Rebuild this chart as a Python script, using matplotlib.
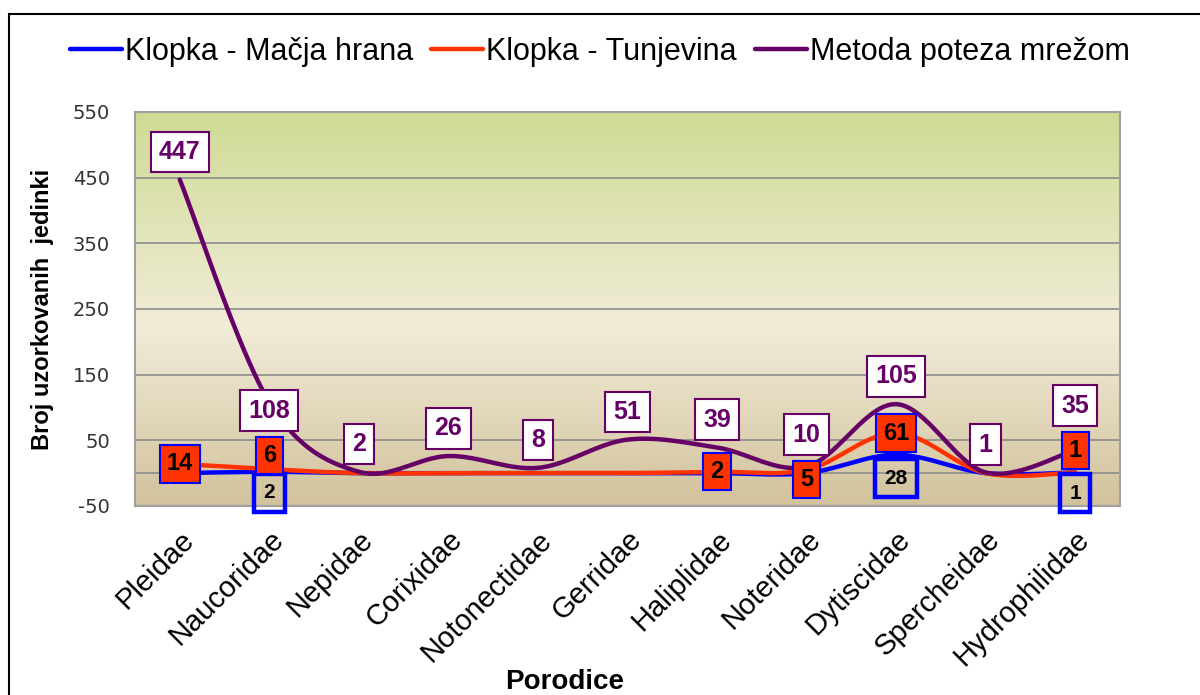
import numpy as np
import matplotlib.pyplot as plt
from matplotlib.patches import Rectangle
from matplotlib.colors import LinearSegmentedColormap

plt.rcParams['font.family'] = ['Liberation Sans', 'DejaVu Sans']
plt.rcParams['axes.unicode_minus'] = False

# --- podaci ---
porodice = ['Pleidae', 'Naucoridae', 'Nepidae', 'Corixidae', 'Notonectidae',
            'Gerridae', 'Haliplidae', 'Noteridae', 'Dytiscidae', 'Spercheidae',
            'Hydrophilidae']
macja_hrana = [0, 2, 0, 0, 0, 0, 0, 0, 28, 0, 1]
tunjevina = [14, 6, 0, 0, 0, 0, 2, 5, 61, 0, 1]
mreza = [447, 108, 2, 26, 8, 51, 39, 10, 105, 1, 35]

C_BLUE = '#0000FF'
C_RED = '#FF3300'
C_PURPLE = '#660066'


def smooth(y, n=40):
    # Bezier spline kroz tocke (kao "smoothed line" u Excelu)
    pts = np.column_stack([np.arange(len(y), dtype=float), np.asarray(y, dtype=float)])
    t = np.linspace(0, 1, n)[:, None]
    out = []
    for i in range(len(pts) - 1):
        p0 = pts[max(i - 1, 0)]
        p1 = pts[i]
        p2 = pts[i + 1]
        p3 = pts[min(i + 2, len(pts) - 1)]
        c1 = p1 + (p2 - p0) / 6
        c2 = p2 - (p3 - p1) / 6
        seg = (1 - t)**3 * p1 + 3 * (1 - t)**2 * t * c1 + 3 * (1 - t) * t**2 * c2 + t**3 * p2
        out.append(seg if i == 0 else seg[1:])
    s = np.vstack(out)
    return s[:, 0], s[:, 1]


fig = plt.figure(figsize=(12, 6.95), dpi=100)
ax = fig.add_axes([0.1125, 0.272, 0.8208, 0.567])

# pozadina s prijelazom boja
cmap = LinearSegmentedColormap.from_list(
    'bg', [(0, '#D2C29C'), (0.45, '#F1ECD8'), (1, '#CFDB94')])
ax.imshow(np.linspace(0, 1, 256)[:, None], cmap=cmap, aspect='auto',
          extent=[-0.5, 10.5, -50, 550], origin='lower', zorder=0)

ax.set_xlim(-0.5, 10.5)
ax.set_ylim(-50, 550)
ax.set_yticks(np.arange(-50, 551, 100))
ax.yaxis.grid(True, color='#8C8C8C', lw=1.2, zorder=1)
ax.axhline(0, color='#8C8C8C', lw=1.2, zorder=1)
ax.set_axisbelow(True)
for s in ax.spines.values():
    s.set_color('#A0A0A0')
    s.set_linewidth(1.5)

ax.tick_params(axis='y', length=0, pad=18, labelsize=14, labelcolor='#333333')
ax.tick_params(axis='x', length=0, pad=14)
for lbl in ax.get_yticklabels():
    lbl.set_fontfamily('DejaVu Sans')
ax.set_xticks(range(len(porodice)))
ax.set_xticklabels(porodice, rotation=45, ha='right', va='top',
                   rotation_mode='anchor', fontsize=21)

# linije
for vals, col, name in [(macja_hrana, C_BLUE, 'Klopka - Mačja hrana'),
                        (tunjevina, C_RED, 'Klopka - Tunjevina'),
                        (mreza, C_PURPLE, 'Metoda poteza mrežom')]:
    xs, ys = smooth(vals)
    ax.plot(xs, ys, color=col, lw=3.2, label=name, zorder=3, solid_capstyle='round')

# oznake vrijednosti (pomaci u tockama, rucno razmaknute gdje se preklapaju)
pomak_mreza = {1: -6, 7: 23, 10: 32}
pomak_tunj = {1: 10, 7: -7, 10: 16}
pomak_macja = {8: -17}

for i, v in enumerate(mreza):
    ax.annotate(str(v), (i, v), xytext=(0, pomak_mreza.get(i, 20)),
                textcoords='offset points', ha='center', va='center',
                fontsize=18, fontweight='bold', color=C_PURPLE, zorder=6,
                bbox=dict(boxstyle='square,pad=0.33', fc='white', ec=C_PURPLE, lw=1.5))
for i, v in enumerate(macja_hrana):
    if v:
        ax.annotate(str(v), (i, v), xytext=(0, pomak_macja.get(i, -15)),
                    textcoords='offset points', ha='center', va='center',
                    fontsize=15, fontweight='bold', color='black', zorder=5,
                    bbox=dict(boxstyle='square,pad=0.45', fc='none', ec=C_BLUE, lw=3.2))
for i, v in enumerate(tunjevina):
    if v:
        ax.annotate(str(v), (i, v), xytext=(0, pomak_tunj.get(i, 0)),
                    textcoords='offset points', ha='center', va='center',
                    fontsize=17, fontweight='bold', color='black', zorder=7,
                    bbox=dict(boxstyle='square,pad=0.3', fc=C_RED, ec=C_BLUE, lw=1.5))

fig.legend(loc='center', bbox_to_anchor=(0.5, 1 - 52 / 695), ncol=3, frameon=False,
           fontsize=22, handlelength=1.7, handletextpad=0.1, columnspacing=0.6)

fig.text(42 / 1200, 0.555, 'Broj uzorkovanih  jedinki', rotation=90, ha='center',
         va='center', fontsize=17, fontweight='bold')
fig.text(565 / 1200, 13 / 695, 'Porodice', ha='center', va='center',
         fontsize=20, fontweight='bold')

# okvir grafikona
fig.add_artist(Rectangle((9 / 1200, -0.1), 1.2, 1.1 - 14 / 695, transform=fig.transFigure,
                         fill=False, ec='black', lw=1.5))

fig.savefig('out.png', dpi=100, facecolor='white')
